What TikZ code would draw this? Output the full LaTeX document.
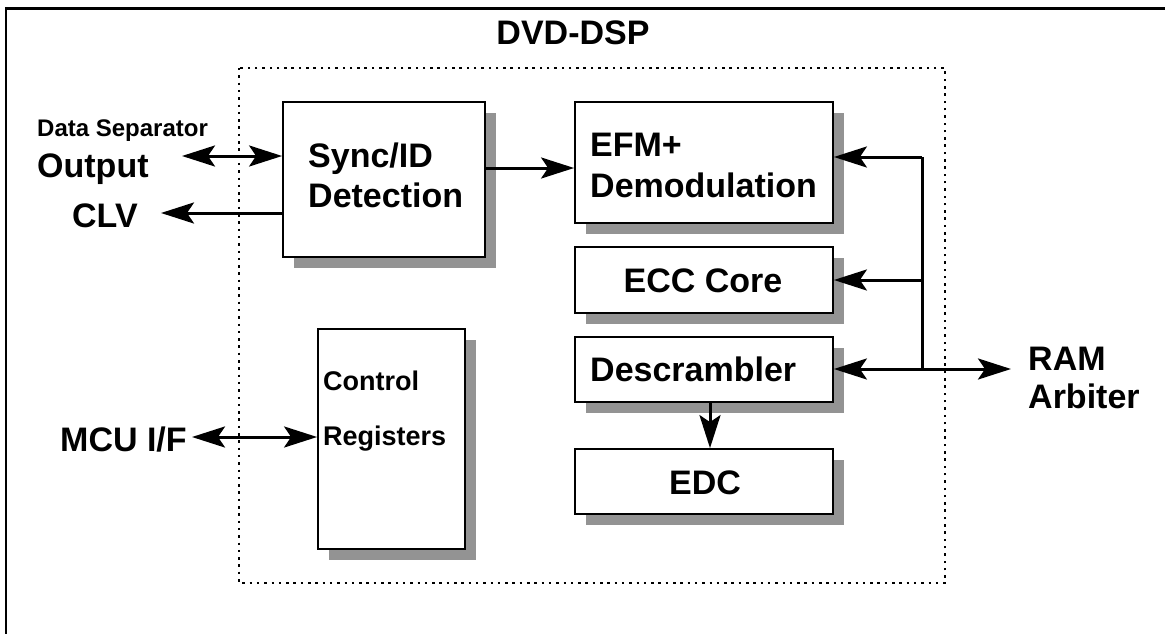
\documentclass[tikz,border=0pt]{standalone}
\usepackage{fontspec}
\setmainfont{Liberation Sans}
\usetikzlibrary{arrows.meta,shadows}
\definecolor{shadowgray}{RGB}{147,147,147}
\tikzset{
  blk/.style={draw=black, line width=1.8pt, fill=white, rectangle, inner sep=0pt,
    drop shadow={shadow xshift=11pt, shadow yshift=-11pt, fill=shadowgray, opacity=1}},
  txt/.style={inner sep=0pt, font=\bfseries\fontsize{34}{40}\selectfont},
  smalltxt/.style={inner sep=0pt, font=\bfseries\fontsize{24}{28}\selectfont},
  regtxt/.style={inner sep=0pt, font=\bfseries\fontsize{27}{32}\selectfont},
  wire/.style={line width=3pt, -{Stealth[length=33pt, width=21pt, inset=7pt]}},
  biwire/.style={line width=3pt, {Stealth[length=33pt, width=21pt, inset=7pt]}-{Stealth[length=33pt, width=21pt, inset=7pt]}},
  bus/.style={line width=3pt},
  chipedge/.style={line width=2.5pt, dash pattern=on 2.5pt off 4.8pt},
  frame/.style={line width=2.5pt}
}
\begin{document}
\begin{tikzpicture}[x=1pt, y=-1pt]
\useasboundingbox (0,0) rectangle (1165,634);
% outer frame
\coordinate (fBL) at (6,640);
\coordinate (fTL) at (6,8.5);
\coordinate (fTR) at (1170,8.5);
\draw[frame] (fBL) -- (fTL) -- (fTR);

% chip boundary
\draw[chipedge] (239,68) rectangle (945,583);
\node[txt, anchor=base] (title) at (573,45) {DVD-DSP};

% blocks
\node[blk, minimum width=202pt, minimum height=155pt] (sync) at (384,179.5) {};
\node[blk, minimum width=258pt, minimum height=121pt] (efm)  at (704,162.5) {};
\node[blk, minimum width=258pt, minimum height=66pt]  (ecc)  at (704,280) {};
\node[blk, minimum width=258pt, minimum height=65pt]  (desc) at (704,369.5) {};
\node[blk, minimum width=258pt, minimum height=65pt]  (edc)  at (704,481.5) {};
\node[blk, minimum width=147pt, minimum height=220pt] (ctrl) at (391.5,439) {};

% block texts
\node[txt, anchor=base west] (syncA) at (308,167) {Sync/ID};
\node[txt, anchor=base west] (syncB) at (308,207) {Detection};
\node[txt, anchor=base west] (efmA) at (590,156) {EFM+};
\node[txt, anchor=base west] (efmB) at (590,197) {Demodulation};
\node[txt, anchor=base] (eccT) at (703,292) {ECC Core};
\node[txt, anchor=base west] (descT) at (590,381) {Descrambler};
\node[txt, anchor=base] (edcT) at (705,494) {EDC};
\node[regtxt, anchor=base west] (ctrlA) at (323,390) {Control};
\node[regtxt, anchor=base west] (ctrlB) at (323,445) {Registers};

% external labels
\node[smalltxt, anchor=base west] (dsep) at (37,136) {Data Separator};
\node[txt, anchor=base west] (outp) at (37,177) {Output};
\node[txt, anchor=base west] (clv) at (72,227) {CLV};
\node[txt, anchor=base west] (mcu) at (60,451) {MCU I/F};
\node[txt, anchor=base west] (ramA) at (1028,370) {RAM};
\node[txt, anchor=base west] (ramB) at (1028,408) {Arbiter};

% connector end points
\coordinate (dsL) at (182,156);
\coordinate (clvL) at (161,213);
\coordinate (mcuL) at (192,437);
\coordinate (ramR) at (1011,369);
\coordinate (busTop) at (922,157);
\coordinate (busEcc) at (922,280);
\coordinate (busDesc) at (922,369);

% connectors
\draw[biwire] (dsL) -- (sync.west |- dsL);
\draw[wire] (sync.west |- clvL) -- (clvL);
\draw[biwire] (mcuL) -- (ctrl.west |- mcuL);
\draw[wire] (sync.east |- 0,168) -- (efm.west |- 0,168);
\draw[wire] (desc.south -| 710,0) -- (edc.north -| 710,0);
\draw[bus] (busTop) -- (busDesc);
\draw[wire] (busTop) -- (efm.east |- busTop);
\draw[wire] (busEcc) -- (ecc.east |- busEcc);
\draw[biwire] (desc.east |- busDesc) -- (ramR);
\end{tikzpicture}
\end{document}
